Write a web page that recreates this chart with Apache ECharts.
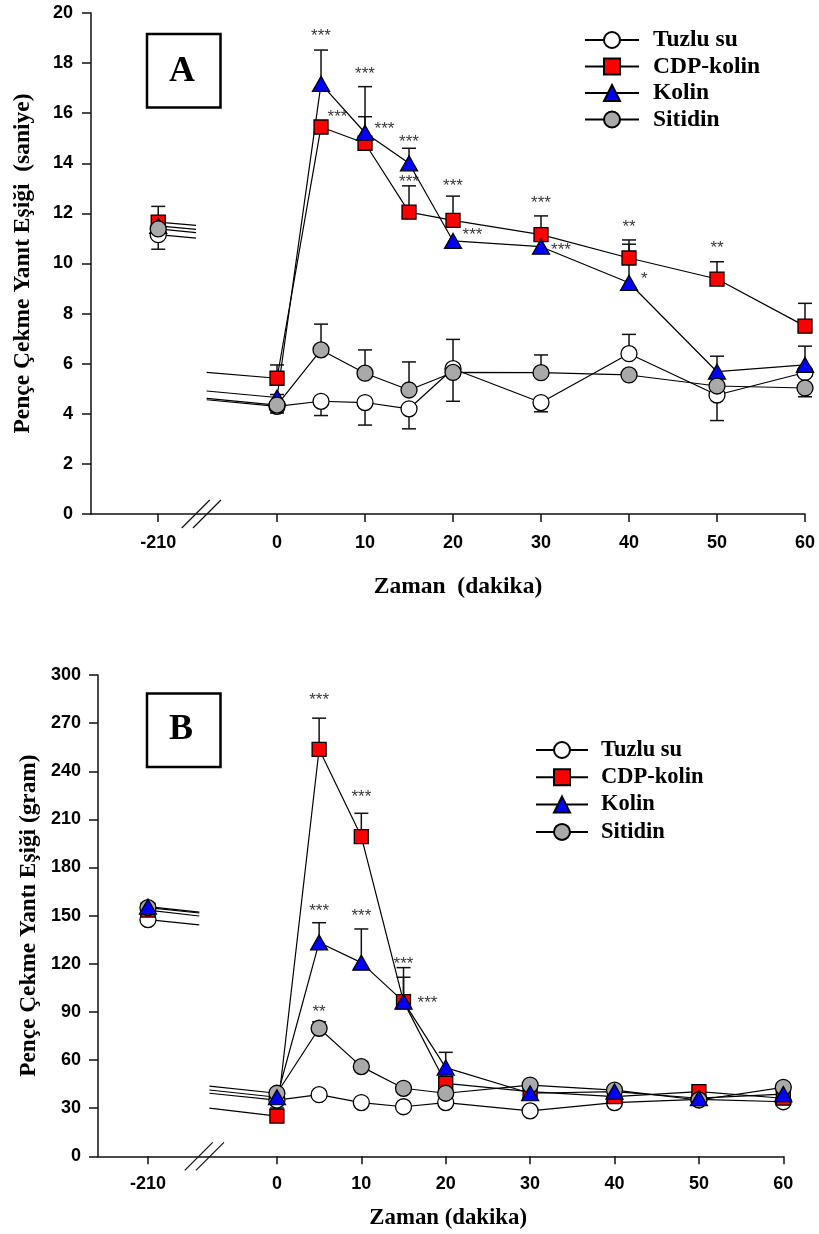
<!DOCTYPE html>
<html><head><meta charset="utf-8">
<script src="https://cdn.jsdelivr.net/npm/echarts@6/dist/echarts.min.js"></script>
<style>html,body{margin:0;padding:0;background:#fff}#c{width:819px;height:1234px}</style>
</head><body><div id="c"></div>
<script>
// ---------------- DATA ----------------
const times = [-210, 0, 5, 10, 15, 20, 30, 40, 50, 60];
const xTickLabels = [-210, 0, 10, 20, 30, 40, 50, 60];
const seriesNames = ['Tuzlu su', 'CDP-kolin', 'Kolin', 'Sitidin'];

// Panel A: Pençe Çekme Yanıt Eşiği (saniye)
const tuzluA   = [11.15, 4.30, 4.50, 4.45, 4.20, 5.80, 4.45, 6.40, 4.75, 5.65];
const cdpA     = [11.65, 5.42, 15.45, 14.80, 12.05, 11.72, 11.15, 10.22, 9.38, 7.50];
const kolinA   = [11.50, 4.65, 17.17, 15.22, 14.00, 10.90, 10.67, 9.23, 5.68, 5.95];
const sitidinA = [11.38, 4.35, 6.55, 5.62, 4.95, 5.65, 5.64, 5.55, 5.11, 5.03];
// standard errors (positive = drawn upward, negative = drawn downward, 0 = not visible)
const errTuzluA   = [-0.58, 0, -0.57, -0.90, -0.80, -1.30, -0.37, 0.77, -1.02, 0];
const errCdpA     = [0.63, 0.53, 0, 1.06, 1.05, 0.97, 0.75, 0.72, 0.69, 0.91];
const errKolinA   = [0, 0.12, 1.35, 1.84, 0.60, 0, 0, 1.54, 0.62, 0.75];
const errSitidinA = [0, -0.32, 1.03, 0.93, 1.12, 1.32, 0.71, 0, 0, -0.35];

// Panel B: Pençe Çekme Yantı Eşiği (gram)
const tuzluB   = [147.5, 35.0, 38.4, 33.5, 30.9, 33.5, 28.3, 33.5, 35.5, 34.0];
const cdpB     = [153.5, 25.1, 253.7, 199.3, 96.4, 45.5, 40.3, 37.2, 40.3, 36.2];
const kolinB   = [155.6, 36.8, 133.3, 120.7, 96.4, 55.3, 39.3, 40.3, 36.2, 38.8];
const sitidinB = [155.0, 39.3, 79.8, 55.9, 42.4, 39.3, 44.4, 41.3, 35.1, 43.0];
const errTuzluB   = [0, 0, 0, 0, 0, 0, 0, 0, 0, 0];
const errCdpB     = [0, 5, 19.4, 14.5, 21.2, 4, 0, 0, 0, 0];
const errKolinB   = [0, 0, 12.3, 21.0, 15.2, 9.5, 0, 0, 0, 0];
const errSitidinB = [0, 0, 4, 3, 0, 0, 0, 0, 0, 0];

// significance marks: series, time, text
const starsA = [
  ['Kolin', 5, '***'], ['Kolin', 10, '***'], ['Kolin', 15, '***'], ['CDP-kolin', 15, '***'],
  ['CDP-kolin', 20, '***'], ['CDP-kolin', 30, '***'], ['CDP-kolin', 40, '**'], ['CDP-kolin', 50, '**'],
  ['CDP-kolin', 5, '***'], ['CDP-kolin', 10, '***'], ['Kolin', 20, '***'], ['Kolin', 30, '***'], ['Kolin', 40, '*']
];
const starsB = [
  ['CDP-kolin', 5, '***'], ['CDP-kolin', 10, '***'], ['Kolin', 5, '***'], ['Kolin', 10, '***'],
  ['Sitidin', 5, '**'], ['CDP-kolin', 15, '***'], ['Kolin', 15, '***']
];

// ---------------- LAYOUT (positions / styles) ----------------
// star placement: ['cap', gapAboveCapPx] or ['right', dx, dy]
const starPlaceA = [
  ['cap', 17], ['cap', 16], ['cap', 10], ['cap', 7], ['cap', 14], ['cap', 16], ['cap', 16], ['cap', 17],
  ['right', 16.5, -13], ['right', 19.5, -17.3], ['right', 19.5, -9.7], ['right', 20, 0.3], ['right', 15.3, -6.7]
];
const starPlaceB = [
  ['cap', 21.6], ['cap', 20], ['cap', 15.4], ['cap', 16.7], ['cap', 13.7], ['cap', 7], ['right', 24, -1.7]
];

const P210 = [-13.5, -15.28];          // plotted position of -210 (axis break)
const BREAK_L = -9.2, BREAK_R = -8.0, BREAK_C = -8.6;
function xpos(t, p) { return t < -100 ? P210[p] + (t + 210) : t; }

const symbols = ['circle', 'rect', 'triangle', 'circle'];
const fills = ['#ffffff', '#ff0000', '#0000ff', '#a9a9a9'];
const sizes = [16, 14, [17, 15], 16];
const LINE_W = 1.2;

const panels = [
  { vals: [tuzluA, cdpA, kolinA, sitidinA], errs: [errTuzluA, errCdpA, errKolinA, errSitidinA],
    order: [0, 1, 2, 3], stars: starsA, place: starPlaceA },
  { vals: [tuzluB, cdpB, kolinB, sitidinB], errs: [errTuzluB, errCdpB, errKolinB, errSitidinB],
    order: [0, 1, 3, 2], stars: starsB, place: starPlaceB }
];

const series = [];
panels.forEach((pn, p) => {
  pn.order.forEach(k => {
    const v = pn.vals[k], e = pn.errs[k];
    // broken connection between -210 and 0 (line continues across the axis break)
    const v210 = v[0], v0 = v[1];
    const interp = t => v210 + (v0 - v210) * (t + 210) / 210;
    const tL = -210 + (BREAK_L - P210[p]);
    const tR = BREAK_R;
    series.push({
      type: 'line', name: '_stub' + p + k, xAxisIndex: p, yAxisIndex: p,
      showSymbol: false, silent: true, connectNulls: false,
      lineStyle: { color: '#000', width: LINE_W }, z: 2,
      data: [[xpos(-210, p), v210], [BREAK_L, interp(tL)], [BREAK_C, '-'], [BREAK_R, interp(tR)], [0, v0]]
    });
    // error bars
    series.push({
      type: 'custom', name: '_err' + p + k, xAxisIndex: p, yAxisIndex: p, silent: true, z: 2,
      encode: { x: 0, y: 1 },
      data: times.map((t, i) => [xpos(t, p), v[i], e[i]]),
      renderItem: (params, api) => {
        const x = api.value(0), y = api.value(1), er = api.value(2);
        if (!er) return null;
        const a = api.coord([x, y]), b = api.coord([x, y + er]);
        const w = 7;
        const st = { stroke: '#111', lineWidth: 1.5 };
        return { type: 'group', children: [
          { type: 'line', shape: { x1: a[0], y1: a[1], x2: b[0], y2: b[1] }, style: st },
          { type: 'line', shape: { x1: b[0] - w, y1: b[1], x2: b[0] + w, y2: b[1] }, style: st }
        ]};
      }
    });
    // main series
    const data = [[xpos(times[0], p), v[0]], [BREAK_C, '-']];
    for (let i = 1; i < times.length; i++) data.push([xpos(times[i], p), v[i]]);
    series.push({
      type: 'line', name: seriesNames[k], xAxisIndex: p, yAxisIndex: p,
      symbol: symbols[k], symbolSize: sizes[k], showAllSymbol: true, connectNulls: false,
      lineStyle: { color: '#000', width: LINE_W },
      itemStyle: { color: fills[k], borderColor: '#000', borderWidth: 1.3 },
      emphasis: { disabled: true }, z: 2,
      data
    });
  });
  // significance stars
  series.push({
    type: 'scatter', name: '_stars' + p, xAxisIndex: p, yAxisIndex: p, silent: true, z: 5,
    symbolSize: 1, itemStyle: { color: 'rgba(0,0,0,0)' },
    label: { show: true, position: 'inside', formatter: '{b}', color: '#000',
             fontFamily: 'Liberation Sans', fontSize: 17 },
    data: pn.stars.map((s, j) => {
      const k = seriesNames.indexOf(s[0]);
      const i = times.indexOf(s[1]);
      const v = pn.vals[k][i], er = pn.errs[k][i];
      const pl = pn.place[j];
      if (pl[0] === 'cap') {
        return { name: s[2], value: [xpos(s[1], p), v + Math.max(er, 0)], label: { offset: [0, -pl[1] + 3.7] } };
      }
      return { name: s[2], value: [xpos(s[1], p), v], label: { offset: [pl[1], pl[2] + 3.7] } };
    })
  });
});

const tickFont = { fontFamily: 'Liberation Sans', fontWeight: 'bold', fontSize: 18, color: '#000' };
const titleFont = { fontFamily: 'Liberation Serif', fontWeight: 'bold', color: '#000' };
const axisLine = { show: true, onZero: false, lineStyle: { color: '#111', width: 1.5 } };

function xAxisCfg(p, nameTxt, gap, fs, padLeft, margin) {
  const tickPos = xTickLabels.map(t => xpos(t, p));
  const lab = {};
  tickPos.forEach((tp, i) => { lab[tp.toFixed(3)] = String(xTickLabels[i]); });
  return {
    type: 'value', gridIndex: p, min: p === 0 ? -21.14 : -21.2, max: 60,
    axisLine, splitLine: { show: false },
    axisTick: { show: true, length: 8, customValues: tickPos, lineStyle: { color: '#111', width: 1.5 } },
    axisLabel: { ...tickFont, margin, customValues: tickPos, formatter: val => lab[Number(val).toFixed(3)] ?? '' },
    name: nameTxt, nameLocation: 'middle', nameGap: gap,
    nameTextStyle: { ...titleFont, fontSize: fs, padding: [0, 0, 0, padLeft] }
  };
}
function yAxisCfg(p, max, interval, nameTxt, gap, fs, margin) {
  return {
    type: 'value', gridIndex: p, min: 0, max, interval,
    axisLine, splitLine: { show: false },
    axisTick: { show: true, length: 9, lineStyle: { color: '#111', width: 1.5 } },
    axisLabel: { ...tickFont, margin },
    name: nameTxt, nameLocation: 'middle', nameRotate: 90, nameGap: gap,
    nameTextStyle: { ...titleFont, fontSize: fs }
  };
}

const chart = echarts.init(document.getElementById('c'), null, { renderer: 'canvas' });
chart.setOption({
  animation: false,
  backgroundColor: '#fff',
  grid: [
    { left: 91, right: 14, top: 13, bottom: 720, containLabel: false },
    { left: 98, right: 35.7, top: 675, bottom: 77.7, containLabel: false }
  ],
  xAxis: [
    xAxisCfg(0, 'Zaman  (dakika)', 61, 23.5, 20, 20),
    xAxisCfg(1, 'Zaman (dakika)', 50, 22.8, 15, 19)
  ],
  yAxis: [
    yAxisCfg(0, 20, 2, 'Pençe Çekme Yanıt Eşiği  (saniye)', 56, 23.5, 18),
    yAxisCfg(1, 300, 30, 'Pençe Çekme Yantı Eşiği (gram)', 56, 23.3, 17)
  ],
  legend: [
    { data: seriesNames, orient: 'vertical', left: 584, top: 28, padding: 0, itemWidth: 54, itemHeight: 20, itemGap: 2.5,
      selectedMode: false,
      textStyle: { ...titleFont, fontSize: 23.5, lineHeight: 24, padding: [0, 0, 0, 9] } },
    { data: seriesNames, orient: 'vertical', left: 535, top: 738, padding: 0, itemWidth: 52, itemHeight: 20, itemGap: 3.3,
      selectedMode: false,
      textStyle: { ...titleFont, fontSize: 22.5, lineHeight: 24, padding: [0, 0, 0, 8] } }
  ],
  series
});

// decorations: panel letters in boxes and axis-break marks
const graphics = [
  { type: 'rect', shape: { x: 147, y: 34, width: 73.5, height: 73.5 }, style: { fill: '#fff', stroke: '#000', lineWidth: 2.5 } },
  { type: 'text', x: 182, y: 72, style: { text: 'A', font: 'bold 36px "Liberation Serif"', fill: '#000', align: 'center', verticalAlign: 'middle' } },
  { type: 'rect', shape: { x: 147, y: 693.5, width: 73.5, height: 73.5 }, style: { fill: '#fff', stroke: '#000', lineWidth: 2.5 } },
  { type: 'text', x: 181, y: 730, style: { text: 'B', font: 'bold 36px "Liberation Serif"', fill: '#000', align: 'center', verticalAlign: 'middle' } }
];
[0, 1].forEach(p => {
  const c = chart.convertToPixel({ xAxisIndex: p, yAxisIndex: p }, [BREAK_C, 0]);
  [-5.6, 5.6].forEach(dx => {
    graphics.push({ type: 'line', z: 10,
      shape: { x1: c[0] + dx - 14, y1: c[1] + 14, x2: c[0] + dx + 14, y2: c[1] - 14 },
      style: { stroke: '#111', lineWidth: 1.2 } });
  });
});
chart.setOption({ graphic: graphics });
</script></body></html>
